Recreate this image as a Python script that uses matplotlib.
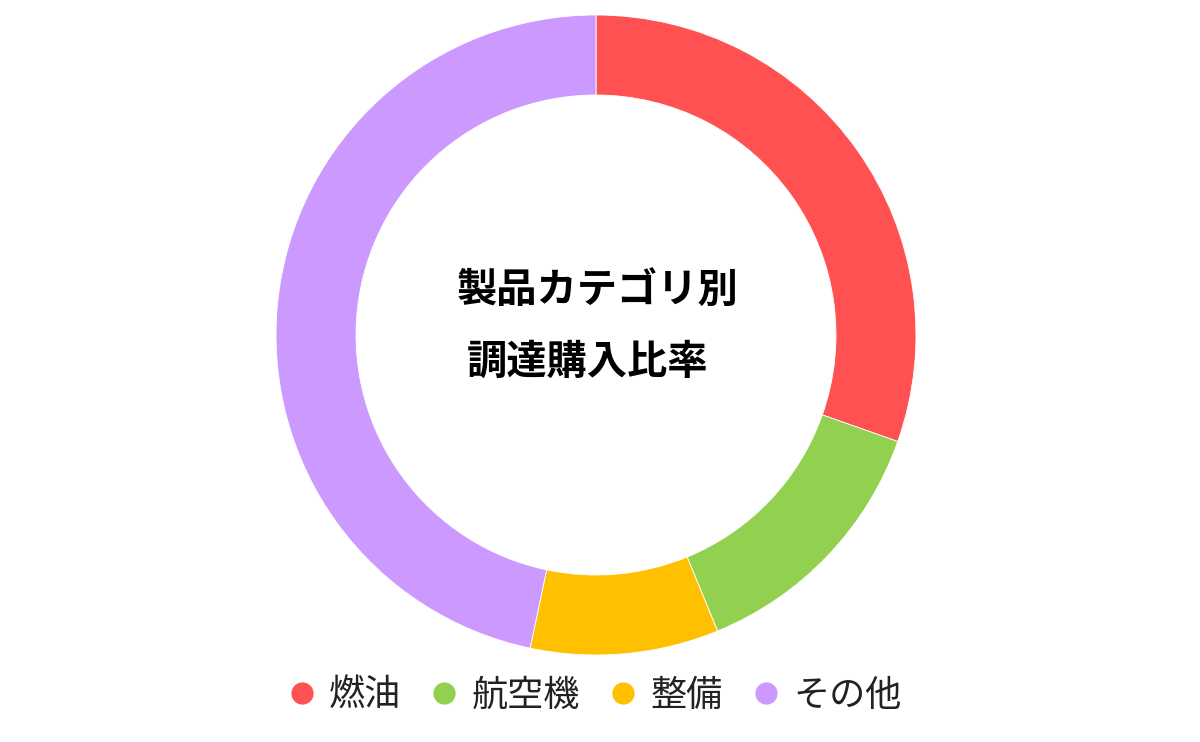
import matplotlib.pyplot as plt
from matplotlib.lines import Line2D

plt.rcParams['font.family'] = ['Noto Sans CJK JP', 'DejaVu Sans']

categories = ['燃油', '航空機', '整備', 'その他']
shares = [30.4, 13.4, 9.5, 46.7]
colors = ['#FF5151', '#92D050', '#FFC000', '#CC99FF']
title_lines = ['製品カテゴリ別', '調達購入比率']

fig = plt.figure(figsize=(12, 7.42), dpi=100)
ax = fig.add_axes([276 / 1200, 1 - 655 / 742, 640 / 1200, 640 / 742])
ax.pie(shares, colors=colors, startangle=90, counterclock=False, radius=1,
       wedgeprops=dict(width=0.25, edgecolor='white', linewidth=0.6))
ax.set_xlim(-1, 1)
ax.set_ylim(-1, 1)
ax.axis('off')

# centre title, two lines
ax.text(0.005, 0.135, title_lines[0], ha='center', va='center',
        fontsize=29, fontweight='bold', color='black')
ax.text(-0.025, -0.085, title_lines[1], ha='center', va='center',
        fontsize=29, fontweight='bold', color='black')

handles = [Line2D([], [], marker='o', linestyle='none', markersize=15,
                  markerfacecolor=c, markeredgecolor=c) for c in colors]
fig.legend(handles, categories, loc='center', bbox_to_anchor=(596 / 1200, 1 - 696 / 742),
           ncol=4, frameon=False, fontsize=26, handlelength=0.6, handletextpad=0.45,
           columnspacing=0.9, labelcolor='#222222')

fig.savefig('out.png', dpi=100)
